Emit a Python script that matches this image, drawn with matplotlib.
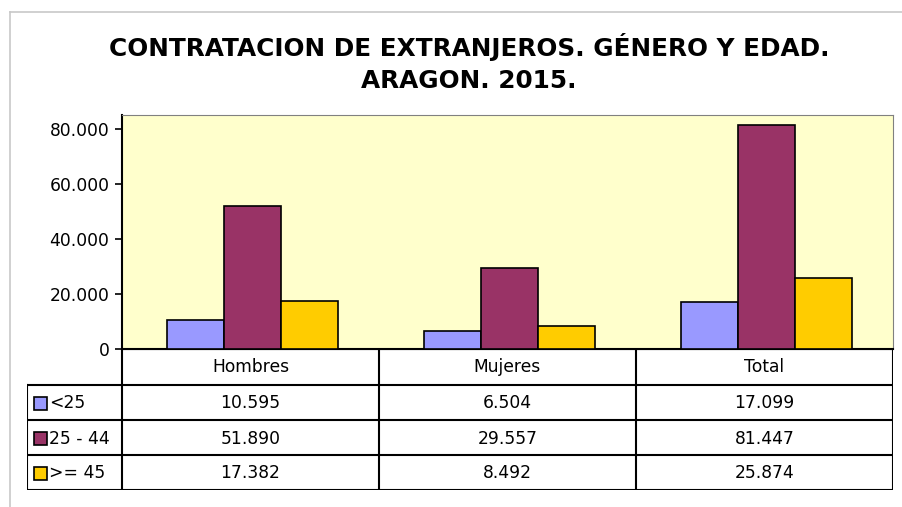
import matplotlib
matplotlib.use("Agg")
import matplotlib.pyplot as plt
from matplotlib.patches import Rectangle

# datos
categorias = ["Hombres", "Mujeres", "Total"]
series = ["<25", "25 - 44", ">= 45"]
menores_25 = [10595, 6504, 17099]
de_25_44 = [51890, 29557, 81447]
mayores_45 = [17382, 8492, 25874]
colores = ["#9999FF", "#993366", "#FFCC00"]
yticks = [0, 20000, 40000, 60000, 80000]


def fmt(v):
    return f"{v:,}".replace(",", ".")


W, H = 903, 507
plt.rcParams["font.family"] = ["DejaVu Sans"]
fig = plt.figure(figsize=(W / 100, H / 100), dpi=100)

def px(x0, y0, x1, y1):
    return [x0 / W, 1 - y1 / H, (x1 - x0) / W, (y1 - y0) / H]

# marco exterior gris
fig.add_artist(plt.Line2D([10 / W, 1], [1 - 12 / H, 1 - 12 / H], color="#c8c8c8", lw=1.2))
fig.add_artist(plt.Line2D([10 / W, 10 / W], [0, 1 - 12 / H], color="#c8c8c8", lw=1.2))

fig.text(469 / W, 1 - 47 / H, "CONTRATACION DE EXTRANJEROS. GÉNERO Y EDAD.",
         ha="center", va="center", fontsize=17.8, fontweight="bold")
fig.text(469 / W, 1 - 81 / H, "ARAGON. 2015.",
         ha="center", va="center", fontsize=17.8, fontweight="bold")

# grafico de barras
ax = fig.add_axes(px(122, 115, 893, 349))
ax.set_facecolor("#FFFFCC")
x = list(range(len(categorias)))
ancho = 0.222
for i, vals in enumerate([menores_25, de_25_44, mayores_45]):
    ax.bar([xi + 0.008 + (i - 1) * ancho for xi in x], vals, width=ancho, color=colores[i],
           edgecolor="black", linewidth=1.2, zorder=3)
ax.set_xlim(-0.5, 2.5)
ax.set_ylim(0, 85000)
ax.set_yticks(yticks)
ax.set_yticklabels([fmt(v) for v in yticks], fontsize=12.3)
ax.set_xticks([])
ax.tick_params(axis="y", direction="out", length=5, width=1.2, pad=4)
for s in ["top", "right"]:
    ax.spines[s].set_color("#808080")
for s in ["left", "bottom"]:
    ax.spines[s].set_linewidth(1.5)

# tabla de datos
tab = fig.add_axes(px(27, 349, 893, 490))
tab.set_xlim(27, 893)
tab.set_ylim(490, 349)
tab.axis("off")
lw = 1.5
cols = [122, 379, 636, 893]
filas = [349, 385, 420, 455, 490]
# lineas horizontales
tab.plot([122, 893], [349, 349], color="black", lw=lw)
for y in filas[1:]:
    tab.plot([27, 893], [y, y], color="black", lw=lw)
# lineas verticales
for xv in cols:
    tab.plot([xv, xv], [349, 490], color="black", lw=lw)
tab.plot([27, 27], [385, 490], color="black", lw=lw)

for j, cat in enumerate(categorias):
    cx = (cols[j] + cols[j + 1]) / 2
    tab.text(cx, 367, cat, ha="center", va="center", fontsize=12.3)
for i, (nombre, vals) in enumerate(zip(series, [menores_25, de_25_44, mayores_45])):
    cy = (filas[i + 1] + filas[i + 2]) / 2
    tab.add_patch(Rectangle((34, cy - 6), 13, 13, facecolor=colores[i],
                            edgecolor="black", lw=1.2))
    tab.text(49, cy + 1, nombre, ha="left", va="center", fontsize=12.3)
    for j, v in enumerate(vals):
        cx = (cols[j] + cols[j + 1]) / 2
        tab.text(cx, cy + 1, fmt(v), ha="center", va="center", fontsize=12.3)

fig.savefig("out.png", dpi=100)
